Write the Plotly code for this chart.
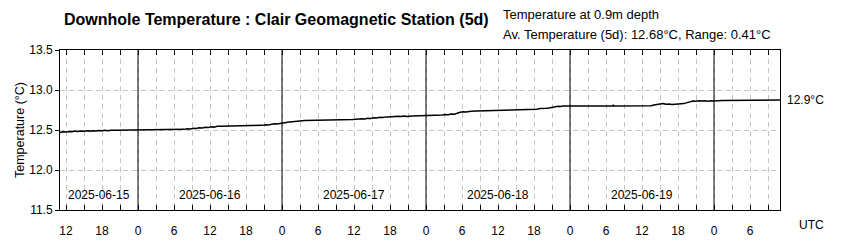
import pandas as pd
import plotly.graph_objects as go

# ---- data ----
title_text = "Downhole Temperature : Clair Geomagnetic Station (5d)"
subtitle1 = "Temperature at 0.9m depth"
avg_temp = 12.68
temp_range = 0.41
x_start = "2025-06-15 11:00"
x_end = "2025-06-20 11:00"
day_labels = ["2025-06-15", "2025-06-16", "2025-06-17", "2025-06-18", "2025-06-19"]
y_ticks = [11.5, 12.0, 12.5, 13.0, 13.5]

# hours since 2025-06-15 00:00 UTC
hours = [
    11.0, 11.5, 12.0, 12.5, 13.0, 13.5, 14.0, 14.5, 15.0, 15.5, 16.0, 16.5, 17.0, 17.5,
    18.0, 18.5, 19.0, 19.5, 20.2,
    30.7, 31.2, 31.7, 32.2, 32.7, 33.2, 33.7, 34.2, 34.7, 35.2, 35.7, 36.2, 36.7, 37.2, 37.7,
    44.7, 45.2, 45.7, 46.2, 46.7, 47.2, 47.7, 48.2, 48.7, 49.2, 49.7, 50.2, 50.7, 51.2, 51.8,
    59.8, 60.3, 60.8, 61.3, 61.8, 62.3, 62.8, 63.3, 63.8, 64.3, 64.8, 65.3, 65.8, 66.3, 66.8,
    67.3, 67.8, 68.3, 68.8, 69.3, 69.7,
    74.7, 75.2, 75.7, 76.2, 76.7, 77.2, 77.7, 78.2, 78.7, 79.2, 79.7, 80.1, 80.5,
    88.5, 89.0, 89.5, 90.0, 90.5, 91.0, 91.5, 92.0, 92.5, 93.0, 93.5, 94.0, 94.4, 94.8,
    103.1, 103.2, 103.3, 106.4, 106.5, 106.6,
    108.5, 109.0, 109.5, 110.0, 110.5, 111.0, 111.5, 112.0, 112.5, 113.0, 113.5, 114.0,
    114.5, 115.0, 115.5, 116.0, 116.5, 117.0, 117.5, 118.0, 118.5, 119.0, 119.5, 120.0,
    120.5, 121.0, 121.4, 121.8,
    131.0,
]
temps = [
    12.468, 12.478, 12.474, 12.482, 12.478, 12.486, 12.482, 12.488, 12.484, 12.490, 12.486,
    12.492, 12.488, 12.494, 12.490, 12.496, 12.492, 12.498, 12.496,
    12.505, 12.512, 12.508, 12.516, 12.512, 12.522, 12.518, 12.528, 12.524, 12.534, 12.530,
    12.540, 12.536, 12.546, 12.548,
    12.558, 12.566, 12.564, 12.572, 12.578, 12.576, 12.584, 12.590, 12.596, 12.600, 12.604,
    12.608, 12.612, 12.616, 12.620,
    12.630, 12.636, 12.634, 12.640, 12.638, 12.646, 12.644, 12.652, 12.650, 12.658, 12.656,
    12.664, 12.662, 12.668, 12.666, 12.672, 12.668, 12.674, 12.670, 12.676, 12.674,
    12.688, 12.694, 12.690, 12.700, 12.698, 12.712, 12.722, 12.728, 12.724, 12.732, 12.730,
    12.736, 12.738,
    12.752, 12.756, 12.754, 12.762, 12.760, 12.768, 12.766, 12.772, 12.776, 12.784, 12.790,
    12.796, 12.794, 12.800,
    12.801, 12.810, 12.801, 12.801, 12.810, 12.801,
    12.802, 12.806, 12.804, 12.812, 12.818, 12.826, 12.830, 12.822, 12.826, 12.818, 12.822,
    12.820, 12.826, 12.830, 12.842, 12.852, 12.862, 12.860, 12.866, 12.862, 12.866, 12.860,
    12.866, 12.862, 12.868, 12.866, 12.870, 12.868,
    12.874,
]

# ---- build ----
base = pd.Timestamp("2025-06-15 00:00")
times = [base + pd.Timedelta(hours=h) for h in hours]
t0 = pd.Timestamp(x_start)
t1 = pd.Timestamp(x_end)

FONT = "Liberation Sans, Arial, sans-serif"
GRID = "#c4c4c4"
DASH = "5px,4px"

fig = go.Figure()
fig.add_trace(go.Scatter(x=times, y=temps, mode="lines",
                         line=dict(color="black", width=1.5), hoverinfo="skip"))

shapes = []
for d in pd.date_range(t0.ceil("D"), t1, freq="D"):
    shapes.append(dict(type="line", xref="x", yref="paper", x0=d, x1=d, y0=0, y1=1,
                       line=dict(color="black", width=1)))

annotations = []
# day labels centred in visible part of each day
for lab in day_labels:
    ds = pd.Timestamp(lab)
    a = max(ds, t0)
    b = min(ds + pd.Timedelta(days=1), t1)
    if b > a:
        c = a + (b - a) / 2
        annotations.append(dict(x=c, y=0, xref="x", yref="paper", text=lab, showarrow=False,
                                yanchor="middle", yshift=15, font=dict(size=12, color="black")))

annotations += [
    dict(x=0, y=1, xref="paper", yref="paper", text="<b>" + title_text + "</b>", showarrow=False,
         xanchor="left", yanchor="middle", xshift=2, yshift=31, font=dict(size=16, color="black")),
    dict(x=0, y=1, xref="paper", yref="paper", text=subtitle1, showarrow=False,
         xanchor="left", yanchor="middle", xshift=441, yshift=36, font=dict(size=13, color="black")),
    dict(x=0, y=1, xref="paper", yref="paper",
         text=f"Av. Temperature (5d): {avg_temp:.2f}°C, Range: {temp_range:.2f}°C", showarrow=False,
         xanchor="left", yanchor="middle", xshift=441, yshift=16, font=dict(size=13, color="black")),
    dict(x=1, y=temps[-1], xref="paper", yref="y", text=f"{temps[-1]:.1f}°C", showarrow=False,
         xanchor="left", yanchor="middle", xshift=5, font=dict(size=12, color="black")),
    dict(x=1, y=0, xref="paper", yref="paper", text="UTC", showarrow=False,
         xanchor="center", yanchor="middle", xshift=31, yshift=-15, font=dict(size=12, color="black")),
    dict(x=0, y=0.5, xref="paper", yref="paper", text="Temperature (°C)", showarrow=False,
         textangle=-90, xanchor="center", yanchor="middle", xshift=-40, font=dict(size=12.5, color="black")),
]

fig.update_layout(
    width=865, height=250,
    margin=dict(l=60, r=85, t=50, b=30),
    paper_bgcolor="white", plot_bgcolor="white",
    font=dict(family=FONT, size=12, color="black"),
    showlegend=False,
    shapes=shapes,
    annotations=annotations,
    xaxis=dict(
        type="date", range=[t0, t1],
        tickmode="linear", tick0="2025-06-15 00:00", dtick=6 * 3600 * 1000,
        tickformat="%-H", ticks="inside", ticklen=5, tickcolor="black",
        showline=True, linecolor="black", linewidth=1, mirror="ticks",
        showgrid=True, gridcolor=GRID, griddash=DASH, gridwidth=1,
        minor=dict(dtick=3 * 3600 * 1000, tick0="2025-06-15 00:00", ticks="inside", ticklen=5,
                   tickcolor="black", showgrid=True, gridcolor=GRID, griddash=DASH),
        ticklabelstandoff=10, zeroline=False,
    ),
    yaxis=dict(
        range=[11.5, 13.5], tickmode="array", tickvals=y_ticks,
        ticktext=[f"{v:.1f}" for v in y_ticks],
        ticks="outside", ticklen=4, tickcolor="black",
        showline=True, linecolor="black", linewidth=1, mirror=True,
        showgrid=True, gridcolor=GRID, griddash=DASH, gridwidth=1, zeroline=False,
    ),
)

fig.write_html("out.html")
